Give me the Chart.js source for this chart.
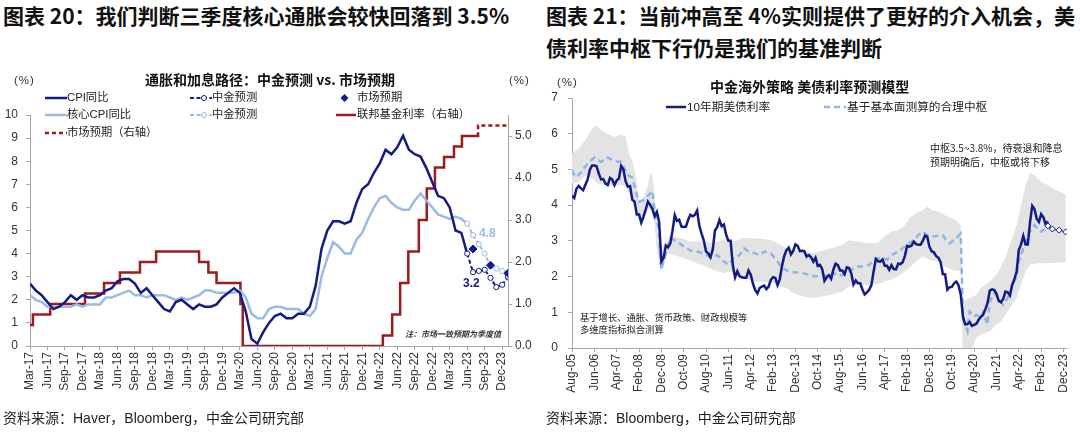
<!DOCTYPE html>
<html>
<head>
<meta charset="utf-8">
<script src="https://cdn.jsdelivr.net/npm/chart.js@4.4.1/dist/chart.umd.min.js"></script>
<style>
    body { margin: 0; width: 1080px; height: 432px; position: relative; background: #fff; overflow: hidden;
           font-family: "Liberation Sans", Arial, "Noto Sans CJK SC", sans-serif; color: #222; }
    .box { position: absolute; width: 540px; height: 432px; top: 0; }
    .txt { position: absolute; white-space: nowrap; line-height: 1; }
    .titulo { font-family: "Noto Sans CJK SC", sans-serif; font-weight: bold; font-size: 21px; color: #111; }
    .sub { font-family: "Noto Sans CJK SC", sans-serif; font-weight: bold; font-size: 14px; color: #111; }
    .leg { font-family: "Liberation Sans", Arial, "Noto Sans CJK SC", sans-serif; font-size: 11.3px; color: #222; }
    .leg svg { position: absolute; }
    .fonte { font-family: "Liberation Sans", Arial, "Noto Sans CJK SC", sans-serif; font-size: 14px; color: #222; }
    .unid { font-size: 11.5px; color: #333; letter-spacing: 1px; }
</style>
</head>
<body>

<div class="txt titulo" style="left:3px; top:5px;">图表 20：我们判断三季度核心通胀会较快回落到 3.5%</div>
<div class="txt titulo" style="left:546px; top:5px;">图表 21：当前冲高至 4%实则提供了更好的介入机会，美</div>
<div class="txt titulo" style="left:546px; top:37px;">债利率中枢下行仍是我们的基准判断</div>

<div class="box" style="left:0;"><canvas id="g-esq"></canvas></div>
<div class="box" style="left:540px;"><canvas id="g-dir"></canvas></div>

<!-- painel esquerdo -->
<div class="txt sub" style="left:145px; top:72px;">通胀和加息路径：中金预测 vs. 市场预期</div>
<div class="txt unid" style="left:14px; top:75px;">(%)</div>
<div class="txt unid" style="left:509px; top:75px;">(%)</div>

<div class="leg">
    <svg style="left:45px; top:94px;" width="22" height="8"><line x1="0" y1="4" x2="22" y2="4" stroke="#141B85" stroke-width="2.5"/></svg>
    <div class="txt" style="left:67px; top:92px;">CPI同比</div>
    <svg style="left:190px; top:94px;" width="22" height="8"><line x1="0" y1="4" x2="22" y2="4" stroke="#141B85" stroke-width="2" stroke-dasharray="4,2.5"/><circle cx="14" cy="4" r="2.5" fill="#fff" stroke="#141B85" stroke-width="1"/></svg>
    <div class="txt" style="left:212px; top:92px;">中金预测</div>
    <svg style="left:340px; top:94px;" width="10" height="8"><path d="M4.5 0 L8.5 4 L4.5 8 L0.5 4 Z" fill="#141B85"/></svg>
    <div class="txt" style="left:357px; top:92px;">市场预期</div>

    <svg style="left:45px; top:111px;" width="22" height="8"><line x1="0" y1="4" x2="22" y2="4" stroke="#9CBAE3" stroke-width="2.5"/></svg>
    <div class="txt" style="left:67px; top:109px;">核心CPI同比</div>
    <svg style="left:190px; top:111px;" width="22" height="8"><line x1="0" y1="4" x2="22" y2="4" stroke="#9CBAE3" stroke-width="2" stroke-dasharray="4,2.5"/><circle cx="14" cy="4" r="2.5" fill="#fff" stroke="#9CBAE3" stroke-width="1"/></svg>
    <div class="txt" style="left:212px; top:109px;">中金预测</div>
    <svg style="left:336px; top:111px;" width="20" height="8"><line x1="0" y1="4" x2="20" y2="4" stroke="#9B1B1F" stroke-width="2.5"/></svg>
    <div class="txt" style="left:357px; top:109px;">联邦基金利率（右轴）</div>

    <svg style="left:45px; top:129px;" width="22" height="8"><line x1="0" y1="4" x2="22" y2="4" stroke="#9B1B1F" stroke-width="2.5" stroke-dasharray="4,3"/></svg>
    <div class="txt" style="left:67px; top:127px;">市场预期（右轴）</div>
</div>

<div class="txt" style="left:463px; top:277px; font-weight:bold; font-size:12px; color:#141B85;">3.2</div>
<div class="txt" style="left:479px; top:227px; font-weight:bold; font-size:12px; color:#9CBAE3;">4.8</div>
<div class="txt" style="left:405px; top:330px; font-family:'Noto Sans CJK SC',sans-serif; font-style:italic; font-weight:bold; font-size:8px; color:#333;">注：市场一致预期为季度值</div>

<div class="txt fonte" style="left:3px; top:411px;">资料来源：Haver，Bloomberg，中金公司研究部</div>

<!-- painel direito -->
<div class="txt sub" style="left:710px; top:79px;">中金海外策略 美债利率预测模型</div>
<div class="txt unid" style="left:557px; top:77px;">(%)</div>

<div class="leg" style="font-size:11.7px;">
    <svg style="left:666px; top:103px;" width="20" height="8"><line x1="0" y1="4" x2="20" y2="4" stroke="#141B85" stroke-width="2.5"/></svg>
    <div class="txt" style="left:687px; top:101px;">10年期美债利率</div>
    <svg style="left:824px; top:103px;" width="22" height="8"><line x1="0" y1="4" x2="22" y2="4" stroke="#8FB5E6" stroke-width="2.5" stroke-dasharray="6,4"/></svg>
    <div class="txt" style="left:847px; top:101px;">基于基本面测算的合理中枢</div>
</div>

<div class="txt" style="left:930px; top:143px; font-family:'Noto Sans CJK SC',sans-serif; font-size:10px; color:#222;">中枢3.5~3.8%，待衰退和降息</div>
<div class="txt" style="left:930px; top:157px; font-family:'Noto Sans CJK SC',sans-serif; font-size:10px; color:#222;">预期明确后，中枢或将下移</div>
<div class="txt" style="left:580px; top:313px; font-family:'Noto Sans CJK SC',sans-serif; font-size:9.3px; color:#222;">基于增长、通胀、货币政策、财政规模等</div>
<div class="txt" style="left:580px; top:325px; font-family:'Noto Sans CJK SC',sans-serif; font-size:9.3px; color:#222;">多维度指标拟合测算</div>

<div class="txt fonte" style="left:546px; top:411px;">资料来源：Bloomberg，中金公司研究部</div>

<script>
// ── Cores ──
const AZUL     = "#141B85";
const AZUL_CL  = "#9CBAE3";
const VERMELHO = "#9B1B1F";
const AZUL_FV  = "#8FB5E6";
const CINZA    = "#E3E3E3";
const EIXO     = "#A6A6A6";
const FONTE    = '"Liberation Sans", Arial, sans-serif';

// ── Dados: painel esquerdo (mensal, a partir de Feb-17) ──
const cpiInicio = "2017-02";
const cpi = [2.7,2.4,2.2,1.9,1.6,1.7,1.9,2.2,2.0,2.2,2.1,
    2.1,2.2,2.4,2.5,2.8,2.9,2.9,2.7,2.3,2.5,2.2,1.9,
    1.6,1.5,1.9,2.0,1.8,1.6,1.8,1.7,1.7,1.8,2.1,2.3,
    2.5,2.3,1.5,0.3,0.1,0.6,1.0,1.3,1.4,1.2,1.2,1.4,
    1.4,1.7,2.6,4.2,5.0,5.4,5.4,5.3,5.4,6.2,6.8,7.0,
    7.5,7.9,8.5,8.3,8.6,9.1,8.5,8.3,8.2,7.7,7.1,6.5,
    6.4,6.0,5.0,4.9,4.0];
const cpiCore = [2.2,2.0,1.9,1.7,1.7,1.7,1.7,1.7,1.8,1.7,1.8,
    1.8,1.8,2.1,2.1,2.2,2.3,2.4,2.2,2.2,2.1,2.2,2.2,
    2.2,2.1,2.0,2.1,2.0,2.1,2.2,2.4,2.4,2.3,2.3,2.3,
    2.3,2.4,2.1,1.4,1.2,1.2,1.6,1.7,1.7,1.6,1.6,1.6,
    1.4,1.3,1.6,3.0,3.8,4.5,4.3,4.0,4.0,4.6,4.9,5.5,
    6.0,6.4,6.5,6.2,6.0,5.9,5.9,6.3,6.6,6.3,6.0,5.7,
    5.6,5.5,5.6,5.5,5.3];

const prevMeses    = ["2023-05","2023-06","2023-07","2023-08","2023-09","2023-10","2023-11","2023-12"];
const prevCpi      = [4.0, 3.2, 3.25, 3.3, 2.95, 2.55, 2.65, 3.0];
const prevCore     = [5.3, 4.8, 4.4, 4.0, 3.45, 3.35, 3.25, 2.95];
const mercadoMeses = ["2023-06","2023-09","2023-12"];
const mercadoCpi   = [4.2, 3.5, 3.15];

const fedDatas = ["2017-02-01","2017-03-16","2017-06-15","2017-12-14","2018-03-22","2018-06-14","2018-09-27",
    "2018-12-20","2019-08-01","2019-09-19","2019-10-31","2020-03-04","2020-03-16","2022-03-17","2022-05-05",
    "2022-06-16","2022-07-28","2022-09-22","2022-11-03","2022-12-15","2023-02-02","2023-03-23","2023-05-04","2023-07-26"];
const fedTaxa  = [0.5,0.75,1.0,1.25,1.5,1.75,2.0,2.25,2.0,1.75,1.5,1.0,0,0.25,0.75,1.5,2.25,3.0,3.75,4.25,4.5,4.75,5.0,5.0];
const fedMercadoDatas = ["2023-07-26","2023-07-27","2024-01-01"];
const fedMercadoTaxa  = [5.0, 5.25, 5.25];

const rotulosEsq = ["Mar-17","Jun-17","Sep-17","Dec-17","Mar-18","Jun-18","Sep-18","Dec-18","Mar-19","Jun-19",
    "Sep-19","Dec-19","Mar-20","Jun-20","Sep-20","Dec-20","Mar-21","Jun-21","Sep-21","Dec-21","Mar-22","Jun-22",
    "Sep-22","Dec-22","Mar-23","Jun-23","Sep-23","Dec-23"];

// ── Dados: painel direito (mensal, a partir de Aug-05) ──
const t10Inicio = "2005-08";
const t10 = [4.26,4.20,4.46,4.54,4.47,
    4.42,4.57,4.72,4.99,5.11,5.11,5.09,4.88,4.72,4.73,4.60,4.56,
    4.76,4.72,4.56,4.69,4.75,5.10,5.00,4.67,4.52,4.53,4.15,4.10,
    3.74,3.74,3.51,3.68,3.88,4.10,4.01,3.89,3.69,3.81,3.53,2.42,
    2.52,2.87,2.82,2.93,3.29,3.72,3.56,3.59,3.40,3.39,3.40,3.59,
    3.73,3.69,3.73,3.85,3.42,3.20,3.01,2.70,2.65,2.54,2.76,3.29,
    3.39,3.58,3.41,3.46,3.17,3.00,3.00,2.30,1.98,2.15,2.01,1.98,
    1.97,1.97,2.17,2.05,1.80,1.62,1.53,1.68,1.72,1.75,1.65,1.72,
    1.91,1.98,1.96,1.76,1.93,2.30,2.58,2.74,2.81,2.62,2.72,2.90,
    2.86,2.71,2.72,2.71,2.56,2.60,2.54,2.42,2.53,2.30,2.33,2.21,
    1.88,1.98,2.04,1.94,2.20,2.36,2.32,2.17,2.17,2.07,2.26,2.24,
    2.09,1.78,1.89,1.81,1.81,1.64,1.50,1.56,1.63,1.76,2.14,2.49,
    2.43,2.42,2.48,2.30,2.30,2.19,2.32,2.21,2.20,2.36,2.35,2.40,
    2.58,2.86,2.84,2.87,2.98,2.91,2.89,2.89,3.00,3.15,3.12,2.83,
    2.71,2.68,2.57,2.53,2.40,2.07,2.06,1.63,1.70,1.71,1.81,1.86,
    1.76,1.50,0.87,0.66,0.67,0.73,0.62,0.65,0.68,0.79,0.87,0.93,
    1.08,1.26,1.61,1.64,1.62,1.52,1.32,1.28,1.37,1.58,1.56,1.47,
    1.76,1.93,2.13,2.75,2.90,3.14,2.90,2.90,3.52,3.98,3.89,3.62,
    3.53,3.75,3.66,3.46,3.55];

const t10PrevMeses = ["2023-05","2023-07","2023-10","2024-01"];
const t10Prev      = [3.42, 3.33, 3.30, 3.25];

const fvMeses = ["2005-08","2005-09","2005-10","2005-12","2006-03","2006-06","2006-09","2006-12","2007-03","2007-06",
    "2007-09","2007-11","2008-01","2008-02","2008-04","2008-07","2008-08","2008-09","2008-11","2008-12","2009-01",
    "2009-03","2009-04","2009-07","2009-10","2010-01","2010-04","2010-07","2010-10","2011-01","2011-04","2011-06",
    "2011-08","2011-11","2012-01","2012-03","2012-06","2012-08","2012-10","2013-01","2013-04","2013-06","2013-09",
    "2014-03","2014-06","2014-09","2014-12","2015-03","2015-05","2015-07","2015-10","2015-12","2016-03","2016-06",
    "2016-09","2016-12","2017-03","2017-05","2017-07","2017-10","2017-12","2018-02","2018-05","2018-07","2018-09",
    "2018-11","2019-02","2019-05","2019-06","2019-08","2019-09","2019-11","2020-02","2020-03","2020-05","2020-06",
    "2020-08","2020-09","2020-11","2020-12","2021-02","2021-03","2021-05","2021-07","2021-09","2021-11","2022-01",
    "2022-03","2022-04","2022-06","2022-08","2022-09","2022-11","2022-12","2023-02","2023-03","2023-05"];
const fvValores = [4.98,4.85,4.78,4.92,5.17,5.33,5.21,5.33,5.23,5.21,
    4.84,4.77,4.28,4.10,4.14,4.33,4.40,3.82,3.26,2.19,2.47,
    2.89,3.07,2.98,2.84,2.73,2.70,2.65,2.54,2.60,2.42,2.33,
    2.50,2.60,2.79,2.70,2.65,2.60,2.70,2.65,2.42,2.25,2.14,
    2.10,2.05,2.00,2.05,2.00,2.10,2.03,2.05,2.14,2.28,2.28,
    2.33,2.51,2.51,2.47,2.60,2.70,2.79,2.90,3.02,3.16,3.26,
    3.16,3.12,3.16,3.15,2.98,2.93,3.02,3.20,0.84,0.48,1.02,
    0.88,0.93,0.84,1.00,0.65,1.30,1.54,1.35,1.21,1.40,1.72,
    2.00,2.42,2.79,3.12,3.26,3.44,3.37,3.26,3.30,3.37];

const faixaMeses = ["2005-08","2005-11","2006-02","2006-05","2006-07","2006-09","2006-12","2007-03","2007-06","2007-08",
    "2007-10","2007-11","2008-01","2008-02","2008-04","2008-06","2008-07","2008-08","2008-09","2008-10","2008-12",
    "2009-01","2009-03","2009-06","2009-10","2010-01","2010-04","2010-08","2010-11","2011-04","2011-08","2012-01",
    "2012-05","2012-10","2013-02","2013-04","2013-08","2013-11","2014-03","2014-08","2014-12","2015-04","2015-09",
    "2015-12","2016-04","2016-09","2017-01","2017-04","2017-07","2017-10","2018-01","2018-03","2018-06","2018-09",
    "2018-11","2019-01","2019-04","2019-07","2019-10","2019-12","2020-02","2020-03","2020-06","2020-09","2020-11",
    "2021-01","2021-03","2021-06","2021-08","2021-10","2021-12","2022-03","2022-05","2022-07","2022-09","2022-11",
    "2022-12","2023-02","2023-05","2023-07","2024-01"];
const faixaSup = [5.45,5.59,5.82,6.15,6.22,6.10,6.00,5.91,5.98,5.91,
    5.35,5.26,4.65,4.14,4.19,4.56,4.89,4.84,4.19,3.35,2.51,
    2.89,3.05,3.12,3.05,2.98,2.98,2.98,2.93,3.05,2.98,3.09,
    3.07,3.05,3.00,2.93,2.79,2.75,2.70,2.65,2.72,2.79,2.89,
    3.02,2.98,2.93,2.95,3.14,3.26,3.30,3.44,3.63,3.77,3.86,
    3.96,3.86,3.82,3.72,3.63,3.58,3.44,1.30,1.40,1.49,1.68,
    1.77,1.86,2.05,2.28,2.51,2.89,3.44,4.00,4.56,4.89,4.84,
    4.79,4.65,4.56,4.47,4.30];
const faixaInf = [4.61,4.65,4.84,4.75,4.61,4.58,4.56,4.55,4.56,4.50,
    4.28,4.10,3.82,3.60,3.54,3.91,3.90,3.80,3.44,2.70,2.14,
    2.33,2.65,2.60,2.51,2.45,2.37,2.28,2.19,2.10,2.14,1.96,
    1.86,1.84,1.82,1.75,1.68,1.54,1.44,1.40,1.44,1.49,1.58,
    1.72,1.77,1.77,1.80,1.86,1.92,2.00,2.14,2.25,2.42,2.56,
    2.50,2.45,2.42,2.28,2.19,2.17,2.14,-0.30,-0.20,0.28,0.37,
    0.42,0.46,0.65,0.74,0.93,1.12,1.40,1.77,2.14,2.33,2.35,
    2.37,2.37,2.37,2.38,2.40];

const rotulosDir = ["Aug-05","Jun-06","Apr-07","Feb-08","Dec-08","Oct-09","Aug-10","Jun-11","Apr-12","Feb-13",
    "Dec-13","Oct-14","Aug-15","Jun-16","Apr-17","Feb-18","Dec-18","Oct-19","Aug-20","Jun-21","Apr-22","Feb-23","Dec-23"];

// ── Posição no eixo (meses) ──
function mesesDesde(base, ym) {
    const [ab, mb] = base.split("-").map(Number);
    const [a, m, d] = ym.split("-").map(Number);
    return (a - ab) * 12 + (m - mb) + (d ? (d - 1) / 30 : 0);
}
// esquerdo: 0 = início de Mar-17; dado mensal fica no fim do mês
const xEsqMes  = ym => mesesDesde("2017-03", ym) + 1;
const xEsqData = dt => mesesDesde("2017-03", dt);
// direito: 0 = Aug-05
const xDir = ym => mesesDesde("2005-08", ym);

function serieMensal(inicio, valores, fx) {
    const x0 = fx(inicio);
    return valores.map((v, i) => ({ x: x0 + i, y: v }));
}
const pares = (xs, ys, fx) => xs.map((k, i) => ({ x: fx(k), y: ys[i] }));

// ── Eixos comuns ──
function eixoX(max, rotulos, passo, altura) {
    return {
        type: "linear", min: 0, max,
        afterBuildTicks: s => { s.ticks = rotulos.map((r, i) => ({ value: i * passo })); },
        afterFit: s => { s.height = altura; },
        ticks: { autoSkip: false, minRotation: 90, maxRotation: 90, padding: 2, color: "#333",
                 font: { family: FONTE, size: 12 }, callback: (v, i) => rotulos[i] },
        grid: { drawOnChartArea: false, tickLength: 4, color: EIXO },
        border: { color: EIXO },
    };
}
function eixoY(pos, min, max, valores, fmt, largura, pad) {
    return {
        position: pos, min, max,
        afterBuildTicks: s => { s.ticks = valores.map(v => ({ value: v })); },
        afterFit: s => { s.width = largura; },
        ticks: { color: "#333", padding: pad, font: { family: FONTE, size: 12 }, callback: fmt },
        grid: { drawOnChartArea: false, tickLength: 4, color: EIXO },
        border: { color: EIXO },
    };
}

Chart.defaults.animation = false;
Chart.defaults.plugins.legend.display = false;
Chart.defaults.plugins.tooltip.enabled = false;

// ── Gráfico esquerdo ──
new Chart(document.getElementById("g-esq"), {
    type: "line",
    data: {
        datasets: [
            { data: pares(mercadoMeses, mercadoCpi, xEsqMes), showLine: false, pointStyle: "rectRot",
              pointRadius: 4, pointBackgroundColor: AZUL, pointBorderColor: AZUL, yAxisID: "y" },
            { data: pares(prevMeses, prevCpi, xEsqMes), borderColor: AZUL, borderWidth: 2, borderDash: [4, 2.5],
              pointRadius: 2.6, pointBackgroundColor: "#fff", pointBorderColor: AZUL, pointBorderWidth: 1, yAxisID: "y" },
            { data: pares(prevMeses, prevCore, xEsqMes), borderColor: AZUL_CL, borderWidth: 2, borderDash: [4, 2.5],
              pointRadius: 2.6, pointBackgroundColor: "#fff", pointBorderColor: AZUL_CL, pointBorderWidth: 1, yAxisID: "y" },
            { data: serieMensal(cpiInicio, cpi, xEsqMes), borderColor: AZUL, borderWidth: 2.5, pointRadius: 0, yAxisID: "y" },
            { data: serieMensal(cpiInicio, cpiCore, xEsqMes), borderColor: AZUL_CL, borderWidth: 2.5, pointRadius: 0, yAxisID: "y" },
            { data: pares(fedDatas, fedTaxa, xEsqData), borderColor: VERMELHO, borderWidth: 2.5, pointRadius: 0,
              stepped: "before", yAxisID: "y2" },
            { data: pares(fedMercadoDatas, fedMercadoTaxa, xEsqData), borderColor: VERMELHO, borderWidth: 2.5,
              borderDash: [4, 3], pointRadius: 0, stepped: "before", yAxisID: "y2" },
        ]
    },
    options: {
        responsive: true, maintainAspectRatio: false,
        layout: { padding: { top: 115, left: 0, right: 0, bottom: 0 } },
        elements: { line: { tension: 0 } },
        scales: {
            x: eixoX(82, rotulosEsq, 3, 86),
            y: eixoY("left", 0, 10, [0,1,2,3,4,5,6,7,8,9,10], v => v, 30, 8),
            y2: eixoY("right", 0, 5.5, [0,1,2,3,4,5], v => v.toFixed(1), 32, 3),
        }
    }
});

// ── Gráfico direito ──
new Chart(document.getElementById("g-dir"), {
    type: "line",
    data: {
        datasets: [
            { data: pares(t10PrevMeses, t10Prev, xDir), borderColor: AZUL, borderWidth: 1, pointStyle: "rectRot",
              pointRadius: 3, pointBackgroundColor: "#fff", pointBorderColor: AZUL, pointBorderWidth: 1 },
            { data: serieMensal(t10Inicio, t10, xDir), borderColor: AZUL, borderWidth: 2.5, pointRadius: 0 },
            { data: pares(fvMeses, fvValores, xDir), borderColor: AZUL_FV, borderWidth: 2.5, borderDash: [6, 4], pointRadius: 0 },
            { data: pares(faixaMeses, faixaSup, xDir), borderWidth: 0, borderColor: "rgba(0,0,0,0)", pointRadius: 0,
              backgroundColor: CINZA, fill: "+1" },
            { data: pares(faixaMeses, faixaInf, xDir), borderWidth: 0, borderColor: "rgba(0,0,0,0)", pointRadius: 0 },
        ]
    },
    options: {
        responsive: true, maintainAspectRatio: false,
        layout: { padding: { top: 98, left: 0, right: 12, bottom: 0 } },
        elements: { line: { tension: 0 } },
        scales: {
            x: eixoX(221.5, rotulosDir, 10, 84),
            y: eixoY("left", 0, 7, [0,1,2,3,4,5,6,7], v => v, 32, 10),
        }
    }
});
</script>
</body>
</html>
